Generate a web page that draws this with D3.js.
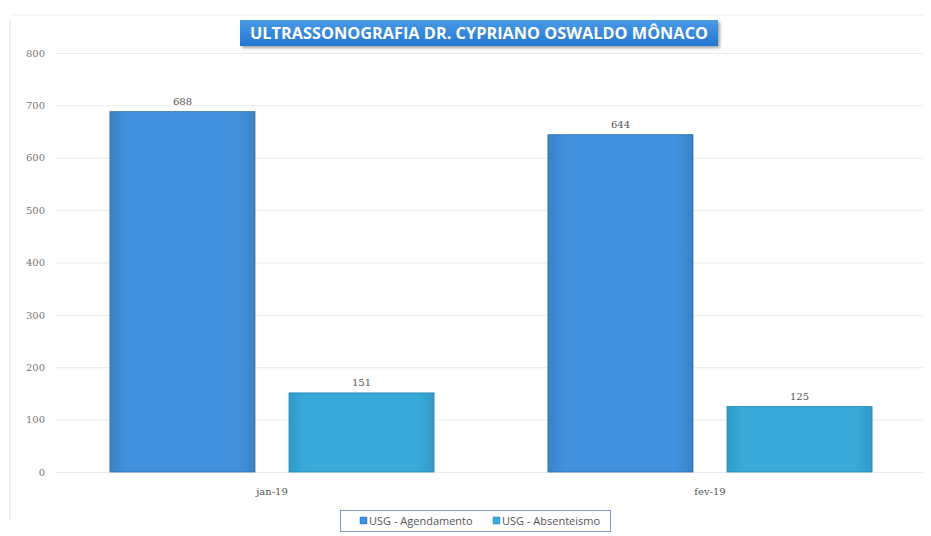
<!DOCTYPE html>
<html><head><meta charset="utf-8">
<script src="https://cdn.jsdelivr.net/npm/d3@7"></script>
<style>body{margin:0;background:#fff;}svg{display:block;}</style>
</head><body><svg id="c" width="931" height="536"></svg>
<script>
const categories = ["jan-19", "fev-19"];
const seriesNames = ["USG - Agendamento", "USG - Absenteismo"];
const agendamento = [688, 644];
const absenteismo = [151, 125];
const yTicks = [0, 100, 200, 300, 400, 500, 600, 700, 800];
const title = "ULTRASSONOGRAFIA DR. CYPRIANO OSWALDO MÔNACO";

const svg = d3.select("#c");
const W = 931, H = 536;
const m = {left: 53, right: 2, top: 53, bottom: 64};
const colors = ["#4192dc", "#38abdb"];
const dark = ["#2a6fb5", "#2488b5"];

const defs = svg.append("defs");
colors.forEach((c, i) => {
  const g = defs.append("linearGradient").attr("id", "g" + i).attr("x1", 0).attr("x2", 1).attr("y1", 0).attr("y2", 0);
  g.append("stop").attr("offset", "0%").attr("stop-color", d3.color(c).darker(0.3));
  g.append("stop").attr("offset", "12%").attr("stop-color", c);
  g.append("stop").attr("offset", "88%").attr("stop-color", c);
  g.append("stop").attr("offset", "100%").attr("stop-color", d3.color(c).darker(0.3));
});
const tg = defs.append("linearGradient").attr("id", "tg").attr("x1", 0).attr("x2", 0).attr("y1", 0).attr("y2", 1);
tg.append("stop").attr("offset", "0%").attr("stop-color", "#4a9ae6");
tg.append("stop").attr("offset", "100%").attr("stop-color", "#2377cf");
const sh = defs.append("filter").attr("id", "sh").attr("x", "-10%").attr("y", "-30%").attr("width", "120%").attr("height", "170%");
sh.append("feDropShadow").attr("dx", 2).attr("dy", 2).attr("stdDeviation", 1.5).attr("flood-color", "#000").attr("flood-opacity", 0.35);

// faint page border lines
svg.append("line").attr("x1", 10).attr("x2", 10).attr("y1", 20).attr("y2", 520).attr("stroke", "#ddd").attr("stroke-width", 1);
svg.append("line").attr("x1", 10).attr("x2", 925).attr("y1", 15).attr("y2", 15).attr("stroke", "#eee").attr("stroke-width", 1);

const y = d3.scaleLinear().domain([0, 800]).range([472, m.top]);
const x0 = d3.scaleBand().domain(categories).range([m.left, W - m.right]).paddingInner(0.26).paddingOuter(0.13);
const x1 = d3.scaleBand().domain(seriesNames).range([0, x0.bandwidth()]).paddingInner(0.19);

// gridlines
svg.append("g").selectAll("line").data(yTicks).join("line")
  .attr("x1", m.left + 2).attr("x2", W - 8)
  .attr("y1", d => y(d) + 0.5).attr("y2", d => y(d) + 0.5)
  .attr("stroke", "#ebebeb").attr("stroke-width", 1);

// y axis labels
const yAxis = d3.axisLeft(y).tickValues(yTicks).tickSize(0).tickPadding(0);
const ya = svg.append("g").attr("transform", `translate(${m.left - 8},0)`).call(yAxis);
ya.select(".domain").remove();
ya.selectAll("text").attr("font-family", "DejaVu Serif, Liberation Serif, serif").attr("font-size", 10).attr("fill", "#777");

// x axis labels
const xAxis = d3.axisBottom(x0).tickSize(0).tickPadding(0);
const xa = svg.append("g").attr("transform", `translate(0,${488})`).call(xAxis);
xa.select(".domain").remove();
xa.selectAll("text").attr("font-family", "DejaVu Serif, Liberation Serif, serif").attr("font-size", 10).attr("fill", "#555");

const series = [agendamento, absenteismo];
const rows = [];
series.forEach((vals, si) => vals.forEach((v, ci) => rows.push({s: si, c: categories[ci], v})));

const bars = svg.append("g");
bars.selectAll("rect").data(rows).join("rect")
  .attr("x", d => x0(d.c) + x1(seriesNames[d.s]))
  .attr("y", d => y(d.v))
  .attr("width", x1.bandwidth())
  .attr("height", d => y(0) - y(d.v))
  .attr("fill", d => `url(#g${d.s})`)
  .attr("stroke", d => dark[d.s]).attr("stroke-width", 0.8);

svg.append("g").selectAll("text").data(rows).join("text")
  .attr("x", d => x0(d.c) + x1(seriesNames[d.s]) + x1.bandwidth() / 2)
  .attr("y", d => y(d.v) - 7)
  .attr("text-anchor", "middle")
  .attr("font-family", "DejaVu Serif, Liberation Serif, serif").attr("font-size", 10).attr("fill", "#555")
  .text(d => d.v);

// title
const tgG = svg.append("g");
tgG.append("rect").attr("x", 240).attr("y", 20).attr("width", 478).attr("height", 26)
  .attr("fill", "url(#tg)").attr("filter", "url(#sh)");
tgG.append("text").attr("x", 479).attr("y", 39).attr("text-anchor", "middle")
  .attr("font-family", "Open Sans, Liberation Sans, sans-serif").attr("font-weight", "bold")
  .attr("font-size", 15.5).attr("fill", "#fff").attr("textLength", 458).attr("lengthAdjust", "spacingAndGlyphs")
  .text(title);

// legend
const lg = svg.append("g");
lg.append("rect").attr("x", 340.5).attr("y", 510.5).attr("width", 270).attr("height", 21)
  .attr("fill", "#fff").attr("stroke", "#7a9cc8").attr("stroke-width", 1);
const lx = [360, 493];
seriesNames.forEach((n, i) => {
  lg.append("rect").attr("x", lx[i]).attr("y", 517).attr("width", 7).attr("height", 7).attr("fill", colors[i]).attr("stroke", dark[i]).attr("stroke-width", 0.5);
  lg.append("text").attr("x", lx[i] + 9).attr("y", 525)
    .attr("font-family", "Open Sans, Liberation Sans, sans-serif").attr("font-size", 11).attr("fill", "#555").text(n);
});
</script></body></html>
